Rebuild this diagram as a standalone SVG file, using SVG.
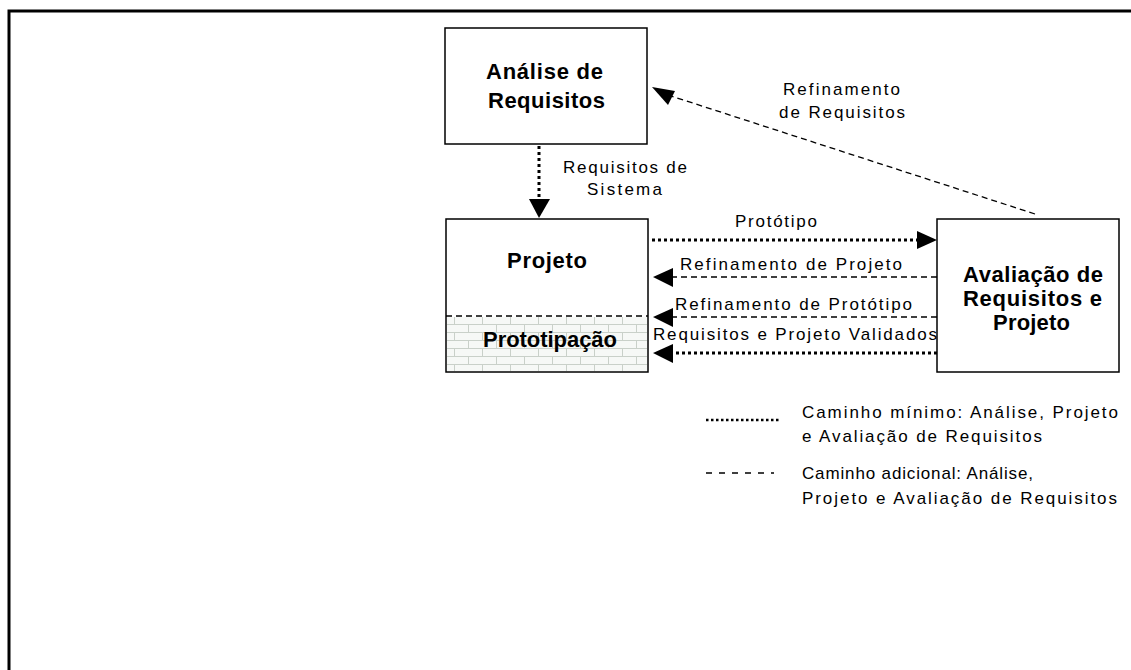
<svg xmlns="http://www.w3.org/2000/svg" width="1131" height="670" viewBox="0 0 1131 670">
  <defs>
    <style>
      .box { fill: #ffffff; stroke: #000000; stroke-width: 1.5; }
      .title { font-family: "Liberation Sans", Arial, sans-serif; font-weight: bold; font-size: 22px; fill: #000; }
      .label { font-family: "Liberation Sans", Arial, sans-serif; font-size: 17px; fill: #000; }
      .dotted { fill: none; stroke: #000; stroke-width: 3; stroke-dasharray: 3 3; }
      .dashed { fill: none; stroke: #000; stroke-width: 1.3; stroke-dasharray: 6 4; }
      .head { fill: #000; stroke: none; }
    </style>
    <pattern id="brick" patternUnits="userSpaceOnUse" x="447" y="316" width="28" height="16">
      <rect width="28" height="16" fill="#f6f8f6"/>
      <path d="M0 0.5 H28 M0 8.5 H28 M7.5 0 V8 M21.5 8 V16" stroke="#c9d0c9" stroke-width="1" fill="none"/>
    </pattern>
  </defs>

  <!-- page frame -->
  <rect x="0" y="0" width="1131" height="670" fill="#ffffff"/>
  <path d="M9 670 V11 H1131" fill="none" stroke="#000" stroke-width="3"/>

  <!-- connectors -->
  <g id="connectors">
    <!-- Requisitos de Sistema -->
    <line class="dotted" x1="539" y1="146" x2="539" y2="200"/>
    <polygon class="head" points="529,199 550,199 539,218"/>
    <!-- Refinamento de Requisitos (diagonal) -->
    <line class="dashed" x1="1035" y1="214" x2="668" y2="95"/>
    <polygon class="head" points="652,87 675,91 668,105"/>
    <!-- Protótipo -->
    <line class="dotted" x1="652" y1="240" x2="918" y2="240"/>
    <polygon class="head" points="917,231 937,240 917,249"/>
    <!-- Refinamento de Projeto -->
    <line class="dashed" x1="937" y1="277" x2="673" y2="277"/>
    <polygon class="head" points="673,268 653,277 673,287"/>
    <!-- Refinamento de Protótipo -->
    <line class="dashed" x1="937" y1="317" x2="673" y2="317"/>
    <polygon class="head" points="673,308 653,317 673,327"/>
    <!-- Requisitos e Projeto Validados -->
    <line class="dotted" x1="937" y1="353" x2="673" y2="353"/>
    <polygon class="head" points="673,344 653,353 673,363"/>

    <text class="label" x="563" y="173" textLength="124" lengthAdjust="spacing">Requisitos de</text>
    <text class="label" x="587" y="195" textLength="75" lengthAdjust="spacing">Sistema</text>
    <text class="label" x="783" y="95" textLength="117" lengthAdjust="spacing">Refinamento</text>
    <text class="label" x="779" y="118" textLength="126" lengthAdjust="spacing">de Requisitos</text>
    <text class="label" x="735" y="227" textLength="82" lengthAdjust="spacing">Protótipo</text>
    <text class="label" x="680" y="270" textLength="222" lengthAdjust="spacing">Refinamento de Projeto</text>
    <text class="label" x="675" y="310" textLength="237" lengthAdjust="spacing">Refinamento de Protótipo</text>
    <text class="label" x="653" y="340" textLength="284" lengthAdjust="spacing">Requisitos e Projeto Validados</text>
  </g>

  <!-- Análise de Requisitos -->
  <g id="analise">
    <rect class="box" x="445" y="28" width="202" height="116"/>
    <text class="title" x="486" y="79" textLength="117" lengthAdjust="spacing">Análise de</text>
    <text class="title" x="488" y="108" textLength="117" lengthAdjust="spacing">Requisitos</text>
  </g>

  <!-- Projeto / Prototipação -->
  <g id="projeto">
    <rect class="box" x="446" y="219" width="202" height="153"/>
    <rect x="447" y="317" width="200" height="54" fill="url(#brick)"/>
    <line class="dashed" x1="446" y1="316" x2="648" y2="316"/>
    <text class="title" x="507" y="268" textLength="80" lengthAdjust="spacing">Projeto</text>
    <text class="title" x="483" y="347" textLength="134" lengthAdjust="spacing">Prototipação</text>
  </g>

  <!-- Avaliação de Requisitos e Projeto -->
  <g id="avaliacao">
    <rect class="box" x="937" y="219" width="182" height="153"/>
    <text class="title" x="963" y="282" textLength="140" lengthAdjust="spacing">Avaliação de</text>
    <text class="title" x="963" y="306" textLength="139" lengthAdjust="spacing">Requisitos e</text>
    <text class="title" x="993" y="330" textLength="77" lengthAdjust="spacing">Projeto</text>
  </g>

  <!-- legend -->
  <g id="legenda">
    <line class="dotted" x1="706" y1="420" x2="781" y2="420" style="stroke-width:2.5; stroke-dasharray:2.5 2.5"/>
    <text class="label" x="802" y="418" textLength="316" lengthAdjust="spacing">Caminho mínimo: Análise, Projeto</text>
    <text class="label" x="802" y="442" textLength="240" lengthAdjust="spacing">e Avaliação de Requisitos</text>
    <line class="dashed" x1="706" y1="473" x2="774" y2="473" style="stroke-dasharray:6 7"/>
    <text class="label" x="802" y="479" textLength="231" lengthAdjust="spacing">Caminho adicional: Análise,</text>
    <text class="label" x="802" y="504" textLength="315" lengthAdjust="spacing">Projeto e Avaliação de Requisitos</text>
  </g>
</svg>
